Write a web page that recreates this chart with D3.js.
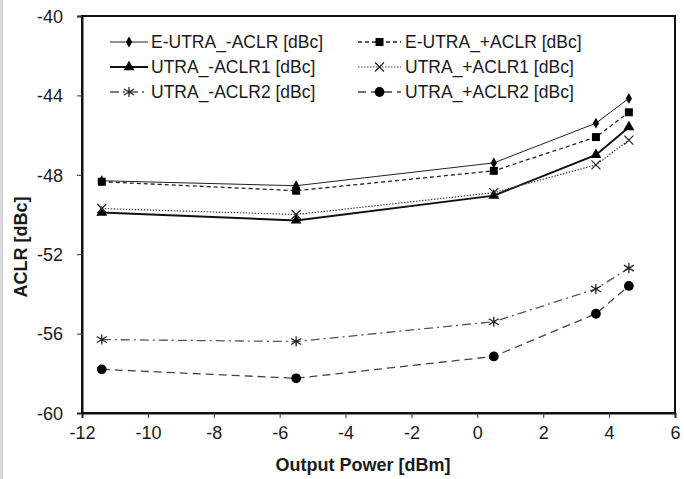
<!DOCTYPE html>
<html>
<head>
<meta charset="utf-8">
<script src="https://cdn.jsdelivr.net/npm/d3@7"></script>
<style>
  html, body { margin: 0; padding: 0; background: #fff; }
  svg { display: block; }
  text { font-family: "Liberation Sans", Arial, sans-serif; fill: #1a1a1a; }
</style>
</head>
<body>
<svg id="chart" width="684" height="479"></svg>
<script>
// ---- data ----
const outputPower = [-11.4, -5.5, 0.5, 3.6, 4.6];
const eutraMinus = [-48.3, -48.55, -47.4, -45.4, -44.15];
const eutraPlus = [-48.35, -48.8, -47.8, -46.1, -44.85];
const utraMinus1 = [-49.9, -50.3, -49.05, -47.0, -45.6];
const utraPlus1 = [-49.7, -50.0, -48.9, -47.5, -46.25];
const utraMinus2 = [-56.3, -56.4, -55.4, -53.75, -52.7];
const utraPlus2 = [-57.8, -58.25, -57.15, -55.0, -53.6];
const seriesNames = ["E-UTRA_-ACLR [dBc]", "E-UTRA_+ACLR [dBc]", "UTRA_-ACLR1 [dBc]",
                     "UTRA_+ACLR1 [dBc]", "UTRA_-ACLR2 [dBc]", "UTRA_+ACLR2 [dBc]"];
const xTicks = [-12, -10, -8, -6, -4, -2, 0, 2, 4, 6];
const yTicks = [-60, -56, -52, -48, -44, -40];
const xTitle = "Output Power [dBm]";
const yTitle = "ACLR [dBc]";

// ---- styles ----
const styles = [
  { values: eutraMinus, stroke: "#222", width: 1, dash: null, marker: "diamond", msize: 34 },
  { values: eutraPlus, stroke: "#222", width: 1.3, dash: "4,3", marker: "square", msize: 64 },
  { values: utraMinus1, stroke: "#111", width: 2, dash: null, marker: "triangle", msize: 52 },
  { values: utraPlus1, stroke: "#444", width: 1.2, dash: "1.5,1.5", marker: "cross", msize: 4.5 },
  { values: utraMinus2, stroke: "#555", width: 1.3, dash: "9,4,2,4", marker: "star", msize: 5 },
  { values: utraPlus2, stroke: "#444", width: 1.3, dash: "8,5", marker: "circle", msize: 75 }
];

const svg = d3.select("#chart");
// left grey strip
svg.append("rect").attr("x", 0).attr("y", 0).attr("width", 3).attr("height", 479).attr("fill", "#d8d8d8");

const L = 82, T = 16, R = 675, B = 413;
const x = d3.scaleLinear().domain([-12, 6]).range([L, R]);
const y = d3.scaleLinear().domain([-60, -40]).range([B, T]);

// plot frame
svg.append("rect").attr("x", L).attr("y", T).attr("width", R - L).attr("height", B - T)
  .attr("fill", "#fff").attr("stroke", "#111").attr("stroke-width", 2);

// axes
const fmt = d => String(d);
const xAxis = svg.append("g").attr("transform", `translate(0,${B})`)
  .call(d3.axisBottom(x).tickValues(xTicks).tickSize(5).tickPadding(8).tickFormat(fmt));
const yAxis = svg.append("g").attr("transform", `translate(${L},0)`)
  .call(d3.axisLeft(y).tickValues(yTicks).tickSize(5).tickPadding(14).tickFormat(fmt));
[xAxis, yAxis].forEach(g => {
  g.select(".domain").attr("stroke", "#111").attr("stroke-width", 2);
  g.selectAll(".tick line").attr("stroke", "#333").attr("stroke-width", 1);
  g.selectAll(".tick text").attr("font-size", 18).attr("fill", "#222")
    .style("font-family", "'Liberation Sans', Arial, sans-serif");
});
yAxis.selectAll(".tick text").attr("dy", "0.35em");

// axis titles
svg.append("text").attr("x", 363).attr("y", 471).attr("text-anchor", "middle")
  .attr("font-size", 18).attr("font-weight", "bold").text(xTitle);
svg.append("text").attr("transform", "translate(27,247) rotate(-90)").attr("text-anchor", "middle")
  .attr("font-size", 18).attr("font-weight", "bold").text(yTitle);

// marker drawing
function drawMarker(g, type, cx, cy, size, color) {
  if (type === "cross") {
    const s = size;
    g.append("path").attr("d", `M${cx - s},${cy - s}L${cx + s},${cy + s}M${cx - s},${cy + s}L${cx + s},${cy - s}`)
      .attr("stroke", color).attr("stroke-width", 1.2).attr("fill", "none");
  } else if (type === "star") {
    const s = size;
    g.append("path").attr("d",
      `M${cx},${cy - s}L${cx},${cy + s}M${cx - s},${cy - s * 0.6}L${cx + s},${cy + s * 0.6}M${cx - s},${cy + s * 0.6}L${cx + s},${cy - s * 0.6}`)
      .attr("stroke", color).attr("stroke-width", 1.3).attr("fill", "none");
  } else {
    const sym = { diamond: d3.symbolDiamond, square: d3.symbolSquare, triangle: d3.symbolTriangle, circle: d3.symbolCircle }[type];
    g.append("path").attr("d", d3.symbol().type(sym).size(size)())
      .attr("transform", `translate(${cx},${cy})`).attr("fill", "#000");
  }
}

const line = d3.line().x(d => x(d[0])).y(d => y(d[1]));
const plot = svg.append("g");
styles.forEach(s => {
  const pts = outputPower.map((p, i) => [p, s.values[i]]);
  plot.append("path").datum(pts).attr("d", line).attr("fill", "none")
    .attr("stroke", s.stroke).attr("stroke-width", s.width).attr("stroke-dasharray", s.dash);
  pts.forEach(p => drawMarker(plot, s.marker, x(p[0]), y(p[1]), s.msize, "#222"));
});

// legend
const legCols = [{ x0: 110, x1: 148, tx: 151 }, { x0: 358, x1: 401, tx: 405 }];
const legRows = [42, 67, 92];
styles.forEach((s, i) => {
  const c = legCols[i % 2], r = legRows[Math.floor(i / 2)];
  const g = svg.append("g");
  g.append("line").attr("x1", c.x0).attr("x2", c.x1).attr("y1", r).attr("y2", r)
    .attr("stroke", s.stroke).attr("stroke-width", s.width).attr("stroke-dasharray", s.dash);
  drawMarker(g, s.marker, (c.x0 + c.x1) / 2, r, s.msize, "#222");
  g.append("text").attr("x", c.tx).attr("y", r).attr("dy", "0.36em")
    .attr("font-size", 17.5).attr("fill", "#222").text(seriesNames[i]);
});
</script>
</body>
</html>
